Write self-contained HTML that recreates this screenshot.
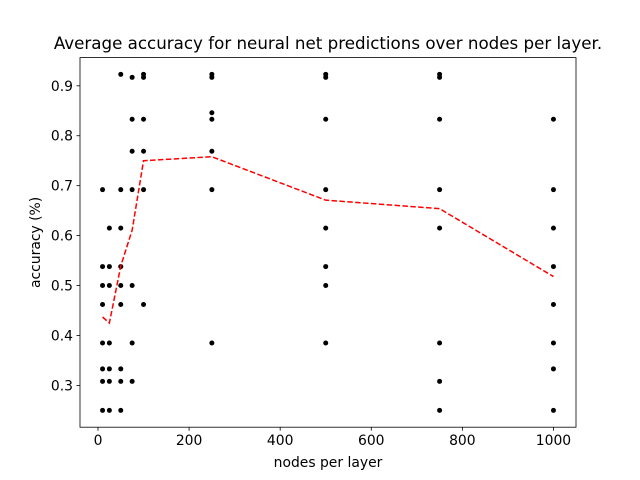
<!DOCTYPE html>
<html><head><meta charset="utf-8"><style>body{margin:0;background:#fff}svg{display:block;font-family:"DejaVu Sans","Liberation Sans",sans-serif}</style></head>
<body>
<svg id="chart" width="640" height="480">
<rect x="0" y="0" width="640" height="480" fill="#fff"/>
</svg>
<script>
const xCats=[10,25,50,75,100,250,500,750,1000];
const pointValues=[
[0.692,0.538,0.5,0.462,0.385,0.333,0.308,0.25],
[0.615,0.538,0.5,0.385,0.333,0.308,0.25],
[0.923,0.692,0.615,0.538,0.5,0.462,0.333,0.308,0.25],
[0.917,0.833,0.769,0.692,0.5,0.385,0.308],
[0.923,0.917,0.833,0.769,0.692,0.462],
[0.923,0.917,0.846,0.833,0.769,0.692,0.385],
[0.923,0.917,0.833,0.692,0.615,0.538,0.5,0.385],
[0.923,0.917,0.833,0.692,0.615,0.385,0.308,0.25],
[0.833,0.692,0.615,0.538,0.462,0.385,0.333,0.25]];
const meanValues=[0.437,0.425,0.539,0.611,0.75,0.758,0.671,0.654,0.518];
const xTicks=[0,200,400,600,800,1000];
const yTicks=[0.3,0.4,0.5,0.6,0.7,0.8,0.9];

const NS="http://www.w3.org/2000/svg",svg=document.getElementById('chart');
const L=80,R=576,T=57.6,B=427.2,x0=-39.5,x1=1049.5,y0=0.2163,y1=0.9565;
const sx=v=>L+(v-x0)/(x1-x0)*(R-L), sy=v=>B-(v-y0)/(y1-y0)*(B-T);
function mk(t,a,p){const e=document.createElementNS(NS,t);for(const k in a)e.setAttribute(k,a[k]);(p||svg).appendChild(e);return e;}
pointValues.forEach((arr,i)=>arr.forEach(v=>{
 const c=mk('circle',{cx:sx(xCats[i]),cy:sy(v),r:2.5,fill:'#000'});
 
 
}));
const pl=mk('polyline',{points:xCats.map((x,i)=>sx(x)+','+sy(meanValues[i])).join(' '),fill:'none',stroke:'#f00','stroke-width':1.5,'stroke-dasharray':'5.5,2.4'});


const fr=mk('rect',{x:L,y:T,width:R-L,height:B-T,fill:'none',stroke:'#000','stroke-width':0.8});


xTicks.forEach(v=>{const x=sx(v);mk('line',{x1:x,x2:x,y1:B,y2:B+3.5,stroke:'#000','stroke-width':0.8});
 const t=mk('text',{x:x,y:B+18,'text-anchor':'middle','font-size':13.9});t.textContent=v;
 
 });
yTicks.forEach(v=>{const y=sy(v);mk('line',{x1:L-3.5,x2:L,y1:y,y2:y,stroke:'#000','stroke-width':0.8});
 const t=mk('text',{x:L-7,y:y+5,'text-anchor':'end','font-size':13.9});t.textContent=v.toFixed(1);
 
 });
const xt=mk('text',{x:(L+R)/2,y:467,'text-anchor':'middle','font-size':13.9});xt.textContent='nodes per layer';


const yt=mk('text',{x:0,y:0,'text-anchor':'middle','font-size':13.9,transform:`translate(40,${(T+B)/2}) rotate(-90)`});yt.textContent='accuracy (%)';


const ti=mk('text',{x:(L+R)/2,y:49,'text-anchor':'middle','font-size':16.7});ti.textContent='Average accuracy for neural net predictions over nodes per layer.';


</script>
</body></html>
